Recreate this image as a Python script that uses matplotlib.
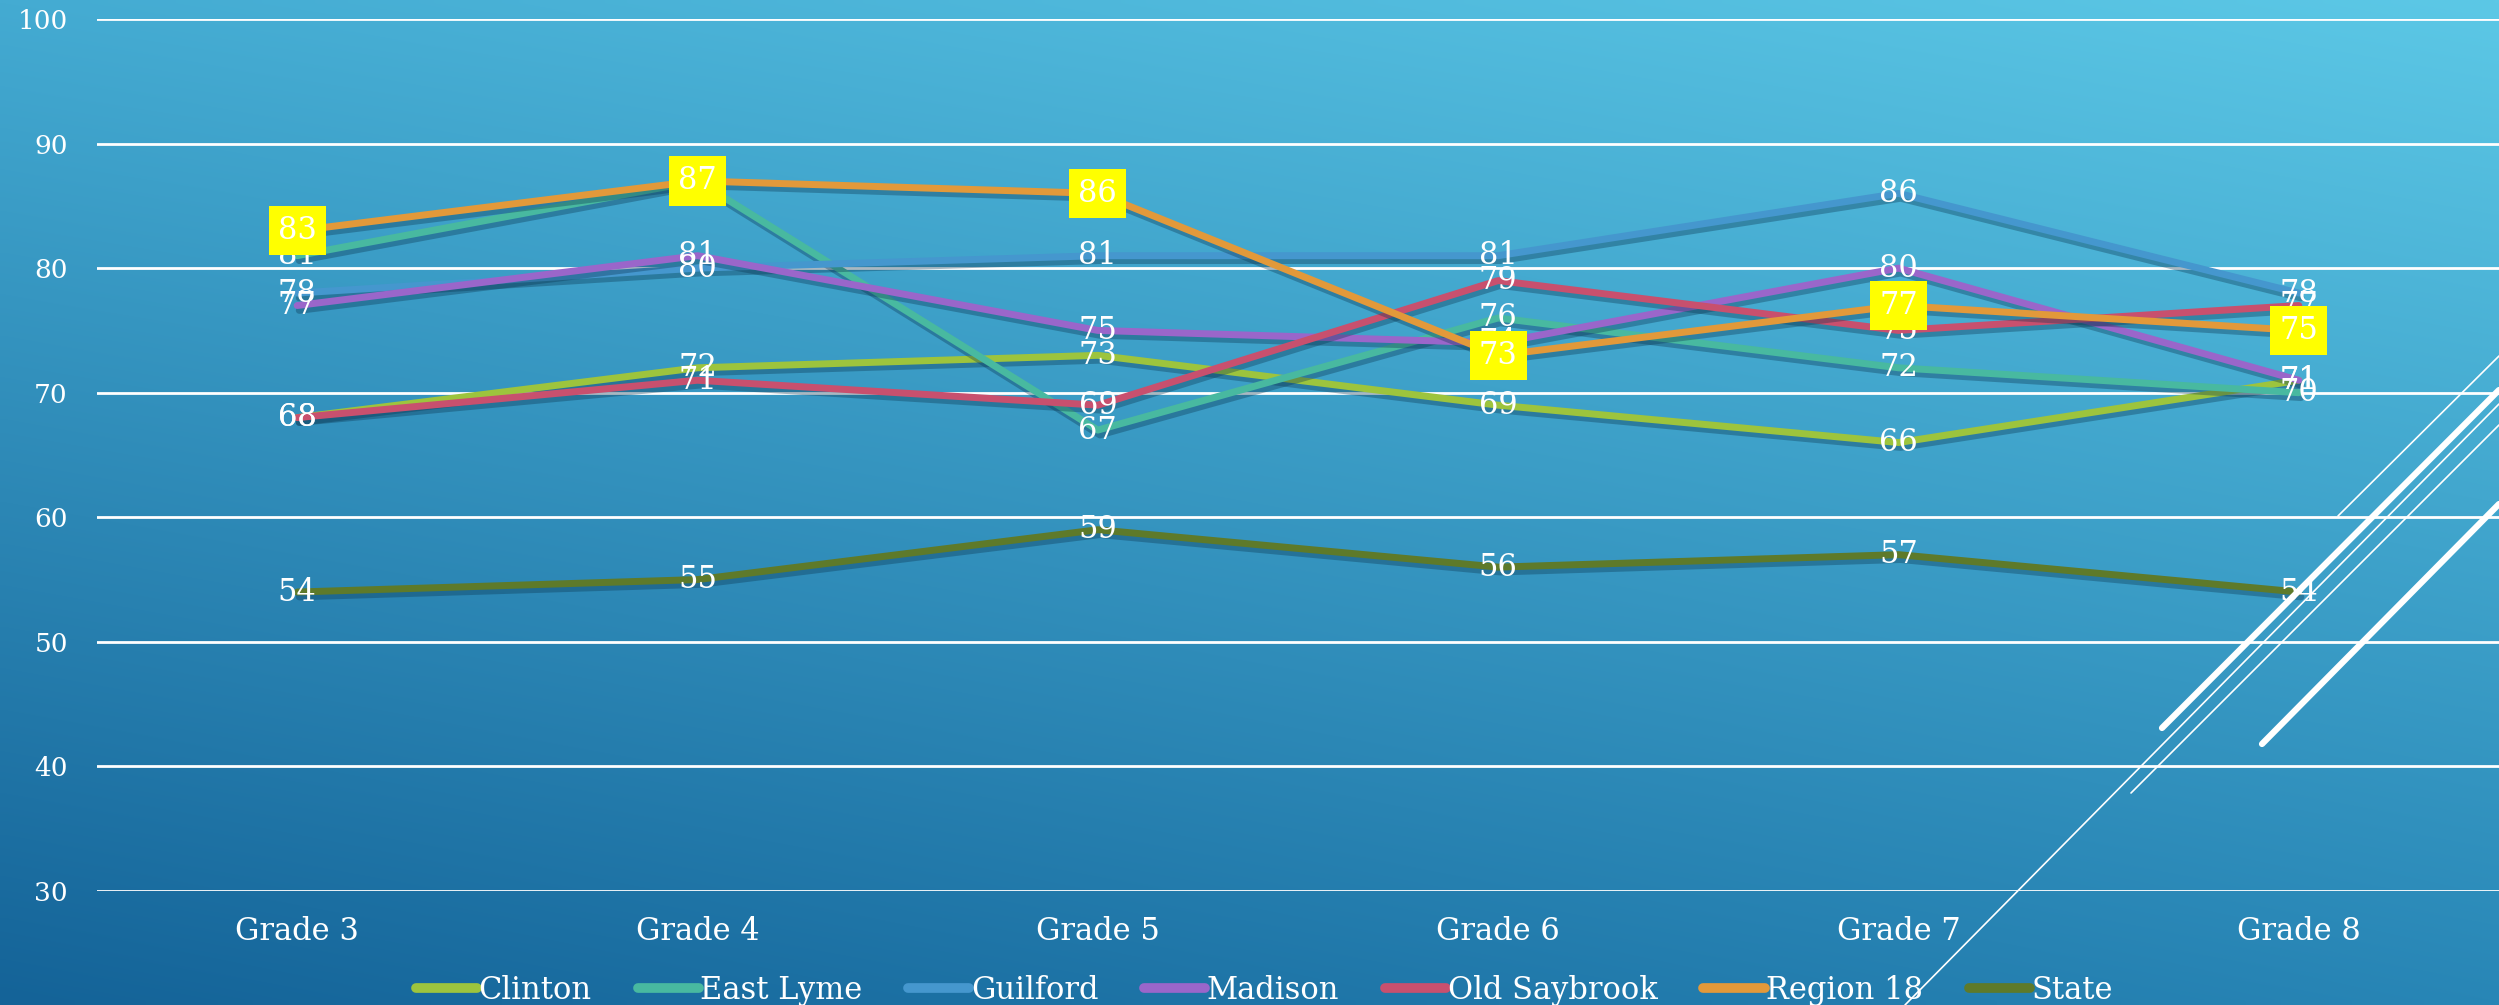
import numpy as np
import matplotlib
matplotlib.use("Agg")
import matplotlib.pyplot as plt
import matplotlib.patheffects as pe
from matplotlib.lines import Line2D
from matplotlib.colors import to_rgb

grades = ["Grade 3", "Grade 4", "Grade 5", "Grade 6", "Grade 7", "Grade 8"]
series_names = ["Clinton", "East Lyme", "Guilford", "Madison", "Old Saybrook", "Region 18", "State"]
clinton = [68, 72, 73, 69, 66, 71]
east_lyme = [81, 87, 67, 76, 72, 70]
guilford = [78, 80, 81, 81, 86, 78]
madison = [77, 81, 75, 74, 80, 71]
old_saybrook = [68, 71, 69, 79, 75, 77]
region_18 = [83, 87, 86, 73, 77, 75]
state = [54, 55, 59, 56, 57, 54]
y_ticks = [30, 40, 50, 60, 70, 80, 90, 100]

colors = ["#9DC43D", "#48B9A0", "#4597CE", "#9A66CA", "#C8506E", "#E2993A", "#5E7A2A"]
all_series = [clinton, east_lyme, guilford, madison, old_saybrook, region_18, state]

W, H = 2499, 1005
plt.rcParams['font.family'] = ['DejaVu Serif']
fig = plt.figure(figsize=(W / 100, H / 100), dpi=100)

# gradient background (bilinear between the four corners)
tl, tr = np.array(to_rgb("#44ABD2")), np.array(to_rgb("#5CC8E6"))
bl, br = np.array(to_rgb("#146398")), np.array(to_rgb("#2886B6"))
u = np.linspace(0, 1, 300)[None, :, None]
v = np.linspace(0, 1, 120)[:, None, None]
img = (1 - v) * ((1 - u) * tl + u * tr) + v * ((1 - u) * bl + u * br)
bg = fig.add_axes([0, 0, 1, 1], zorder=-10)
bg.imshow(img, aspect='auto', extent=[0, 1, 0, 1], interpolation='bilinear')
bg.axis('off')

ax = fig.add_axes([97 / W, 1 - 891 / H, 1 - 97 / W, (891 - 19) / H])
ax.patch.set_alpha(0)
x = np.arange(len(grades))

shadow = [pe.SimpleLineShadow(offset=(1.5, -3.5), shadow_color='#0a3550', alpha=0.35), pe.Normal()]
for name, vals, c in zip(series_names, all_series, colors):
    ax.plot(x, vals, color=c, lw=5, label=name, solid_capstyle='round',
            path_effects=shadow, zorder=3)

for name, vals in zip(series_names, all_series):
    for xi, v_ in zip(x, vals):
        if name == "Region 18":
            ax.text(xi, v_, str(v_), ha='center', va='center', color='white', fontsize=22,
                    zorder=5, bbox=dict(boxstyle='square,pad=0.3', fc='#FFFF00', ec='none'))
        else:
            ax.text(xi, v_, str(v_), ha='center', va='center', color='white', fontsize=22, zorder=4)

ax.set_xlim(-0.5, 5.5)
ax.set_ylim(30, 100)
ax.set_yticks(y_ticks)
ax.set_xticks(x)
ax.set_xticklabels(grades)
ax.tick_params(axis='both', length=0, colors='white')
ax.tick_params(axis='x', pad=18, labelsize=22)
ax.tick_params(axis='y', pad=21, labelsize=19)
ax.grid(axis='y', color='white', lw=2)
ax.set_axisbelow(True)
for s in ax.spines.values():
    s.set_visible(False)

leg = fig.legend(loc='center', bbox_to_anchor=(0.506, 1 - 990 / H), ncol=7, frameon=False,
                 fontsize=22, handlelength=2.0, handletextpad=0.05, columnspacing=1.5,
                 labelcolor='white')
for h in leg.get_lines():
    h.set_linewidth(7)
    h.set_path_effects([])

# decorative theme lines in the bottom-right corner
deco = [((1905, 1005), (2499, 404), 1.2),
        ((2162, 728), (2499, 390), 4.5),
        ((2131, 793), (2499, 425), 1.2),
        ((2262, 744), (2499, 504), 4.5),
        ((2338, 516), (2499, 356), 1.2)]
for (x1, y1), (x2, y2), lw in deco:
    fig.add_artist(Line2D([x1 / W, x2 / W], [1 - y1 / H, 1 - y2 / H], transform=fig.transFigure,
                          color='white', lw=lw, solid_capstyle='round', zorder=20))

fig.savefig("out.png", dpi=100)
